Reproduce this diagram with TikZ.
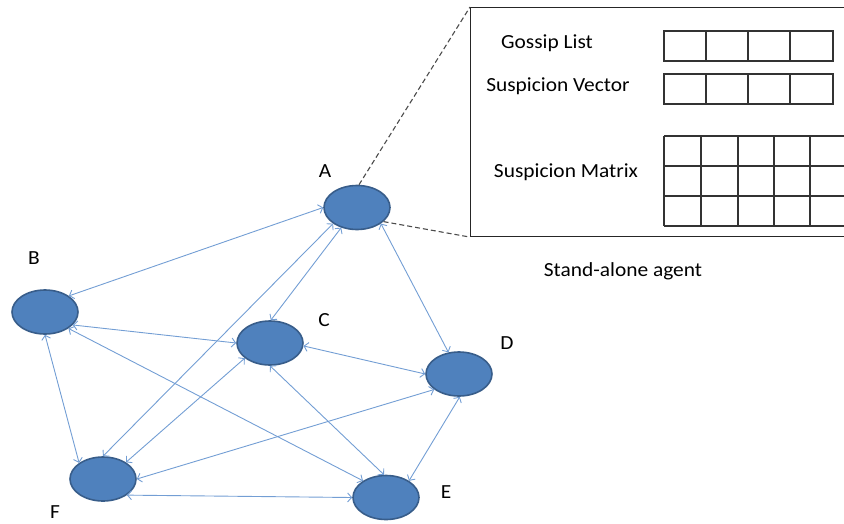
\documentclass[tikz,border=0pt]{standalone}
\usepackage{fontspec}
\setmainfont{Carlito}
\usetikzlibrary{shapes.geometric, arrows.meta}
\definecolor{agentfill}{RGB}{79,129,189}
\definecolor{agentborder}{RGB}{56,93,138}
\definecolor{linkblue}{RGB}{115,158,212}
\newcommand\widetxt[1]{\scalebox{1.07}[1]{#1}}
\begin{document}
\begin{tikzpicture}[x=1pt,y=-1pt,
 agent/.style={ellipse, draw=agentborder, fill=agentfill, line width=1.6pt, minimum width=66pt, minimum height=44pt, inner sep=0pt},
 link/.style={draw=linkblue, line width=0.9pt, {Straight Barb[length=4pt,width=9pt]}-{Straight Barb[length=4pt,width=9pt]}},
 lbl/.style={font=\fontsize{20}{24}\selectfont, inner sep=0pt},
 zoomline/.style={draw=black!70, line width=1.1pt, dash pattern=on 5pt off 3pt},
 gridline/.style={draw=black!80, line width=1.1pt}
]
\useasboundingbox (0,0) rectangle (844,523);
\clip (0,0) rectangle (844,523);

% stand-alone agent box
\node[draw=black!85, line width=1.1pt, anchor=north west, minimum width=380pt, minimum height=229pt, inner sep=0pt] (box) at (470,7) {};
\draw[gridline] (664,31) rectangle (833,61);
\foreach \x in {706,748,790} \draw[gridline] (\x,31) -- (\x,61);
\draw[gridline] (664,74) rectangle (833,104);
\foreach \x in {706,748,790} \draw[gridline] (\x,74) -- (\x,104);
\foreach \y in {136,166,196,226} \draw[gridline] (664,\y) -- (850,\y);
\foreach \x in {664,701,738,774,810} \draw[gridline] (\x,136) -- (\x,226);

\node[lbl, anchor=base] (gl) at (547,48) {\widetxt{Gossip List}};
\node[lbl, anchor=base] (sv) at (558,91) {\widetxt{Suspicion Vector}};
\node[lbl, anchor=base] (sm) at (566,177) {\widetxt{Suspicion Matrix}};
\node[lbl, anchor=base] (sa) at (623,276) {\widetxt{Stand-alone agent}};

% agents
\node[agent] (A) at (357,207.5) {};
\node[agent] (B) at (45,312) {};
\node[agent] (C) at (270,343) {};
\node[agent] (D) at (459,374) {};
\node[agent] (E) at (386,497.5) {};
\node[agent] (F) at (103,479) {};

\node[lbl] (lA) at (325,171) {\widetxt{A}};
\node[lbl] (lB) at (34,258) {\widetxt{B}};
\node[lbl] (lC) at (324,320) {\widetxt{C}};
\node[lbl] (lD) at (507,343) {\widetxt{D}};
\node[lbl] (lE) at (446,492) {\widetxt{E}};
\node[lbl] (lF) at (55,512.5) {\widetxt{F}};

% zoom lines
\draw[zoomline] (A.85) -- (box.north west);
\draw[zoomline] (A.332) -- (box.south west);

% links
\draw[link] (A.180) -- (B.34);
\draw[link] (A.232) -- (C.88);
\draw[link] (A.214) -- (F.90);
\draw[link] (A.326) -- (D.116);
\draw[link] (B.335) -- (C.180);
\draw[link] (B.270) -- (F.146);
\draw[link] (B.325) -- (E.144);
\draw[link] (C.355) -- (D.180);
\draw[link] (C.270) -- (E.95);
\draw[link] (C.211) -- (F.36);
\draw[link] (D.212) -- (F.0);
\draw[link] (D.272) -- (E.36);
\draw[link] (F.326) -- (E.180);
\end{tikzpicture}
\end{document}
